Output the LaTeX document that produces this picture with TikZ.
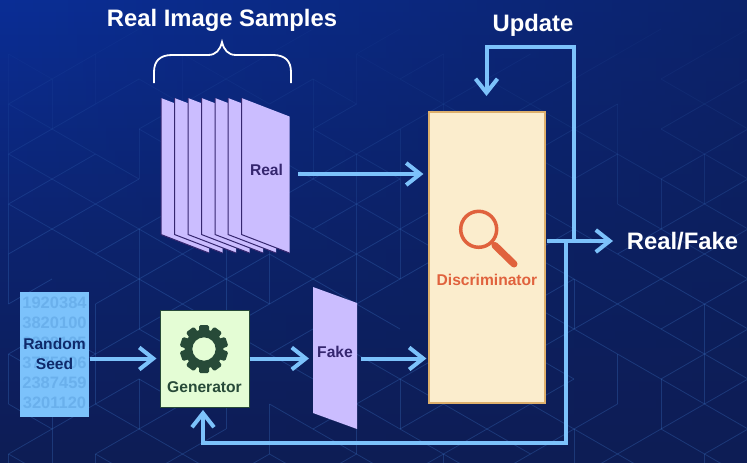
\documentclass[tikz,border=0pt]{standalone}
\usepackage{fontspec}
\setmainfont{Liberation Sans}
\usetikzlibrary{positioning,calc,arrows.meta,fadings}

\definecolor{flowblue}{HTML}{7CC2FB}
\definecolor{seedblue}{HTML}{6AB0EC}
\definecolor{sheetlilac}{HTML}{CBBDFF}
\definecolor{sheetdark}{HTML}{35266F}
\definecolor{gearDark}{HTML}{274A38}
\definecolor{lensRed}{HTML}{E0623D}
\definecolor{bgtop}{HTML}{0A2E96}
\definecolor{bgmid}{HTML}{0C2470}
\definecolor{bgbot}{HTML}{0D1D55}
\definecolor{latline}{HTML}{3F78C8}
\definecolor{discfill}{HTML}{FBEDCD}
\definecolor{discedge}{HTML}{DDB06C}
\definecolor{genfill}{HTML}{E4FDD5}
\definecolor{seedtext}{HTML}{0F2A6B}

\tikzset{
	flow/.style={draw=flowblue,line width=4pt,-{Straight Barb[length=14pt,width=22pt,line width=4pt]}},
	sheet/.style={fill=sheetlilac},
	sheetedge/.style={draw=sheetdark,line width=1pt},
	bigtext/.style={text=white,font=\bfseries\fontsize{23.8}{26}\selectfont,inner sep=0pt},
	smalltext/.style={font=\bfseries\fontsize{15.6}{20}\selectfont,inner sep=0pt,align=center},
	digits/.style={text=seedblue,font=\bfseries\fontsize{16.5}{20}\selectfont,inner sep=0pt}
}

\begin{document}
\begin{tikzpicture}[x=1pt,y=-1pt]
	\useasboundingbox (0,0) rectangle (747,463);
	% backdrop
	\shade[top color=bgtop,bottom color=bgbot,middle color=bgmid] (0,0) rectangle (747,463);
	\fill[bgbot,path fading=west,opacity=0.65] (0,0) rectangle (747,463);

	% faint lattice
	\pgfmathsetseed{11}
	\foreach \i in {0,...,17} {
		\foreach \j in {1,...,9} {
			\pgfmathsetmacro{\px}{8.5+43.5*\i}
			\pgfmathsetmacro{\py}{4+50*\j+25*mod(\i,2)}
			\pgfmathsetmacro{\op}{min(0.3,\py/900)}
			\pgfmathrandominteger{\ra}{0}{9}
			\pgfmathrandominteger{\rb}{0}{9}
			\pgfmathrandominteger{\rc}{0}{9}
			\begin{scope}[draw=latline,opacity=\op,line width=0.8pt]
				\ifnum\ra<5 \draw (\px,\py) -- ++(0,50); \fi
				\ifnum\rb<7 \draw (\px,\py) -- ++(43.5,25); \fi
				\ifnum\rc<7 \draw (\px,\py) -- ++(43.5,-25); \fi
			\end{scope}
		}
	}

	\node[bigtext] (samples) at (222,20) {Real Image Samples};
	\node[bigtext] (update) at (533,25) {Update};
	\node[bigtext] (verdict) at (682.5,241) {Real/Fake};

	% brace
	\draw[white,line width=1.8pt] (154,83) -- (154,72) .. controls (154,61) and (160,55) .. (172,55) -- (208,55) .. controls (216,55) and (220,50) .. (222,42) .. controls (224,50) and (228,55) .. (236,55) -- (273,55) .. controls (285,55) and (291,61) .. (291,72) -- (291,83);

	% stack of sheets
	\foreach \x in {161,174.5,188,201.5,215,228,241.5} {
		\fill[sheet] (\x,98) -- ++(48,18.5) -- ++(0,136.5) -- ++(-48,-18.5) -- cycle;
		\draw[sheetedge] (\x,98) -- ++(0,136.5) -- ++(48,18.5);
	}
	\node[smalltext,text=sheetdark] (real) at (266.5,170) {Real};

	\fill[sheet] (313,287) -- (357,303) -- (357,429) -- (313,413) -- cycle;
	\node[smalltext,text=sheetdark] (fake) at (335,352) {Fake};

	\node[fill=flowblue,minimum width=69pt,minimum height=125pt,inner sep=0pt] (seedbox) at (54.5,354.5) {};
	\foreach \t/\y in {1920384/303,3820100/323,3928105/343,3775806/363,2387459/383,3201120/403} {
		\node[digits] (row\y) at (54.5,\y) {\t};
	}
	\node[smalltext,text=seedtext] (seed) at (54.5,354) {Random\\Seed};

	\node[draw=gearDark,line width=1pt,fill=genfill,minimum width=89pt,minimum height=97pt,inner sep=0pt] (gen) at (204.5,358.5) {};
	% gear
	\fill[gearDark,even odd rule] (204,349) circle (19.5pt) (204,349) circle (11.7pt);
	\foreach \a in {0,36,...,324} {
		\fill[gearDark,rotate around={\a:(204,349)},rounded corners=1.5pt] (199,333) rectangle (209,325);
	}
	\node[smalltext,text=gearDark] (genlabel) at (204.5,387) {Generator};

	\node[draw=discedge,line width=1.2pt,fill=discfill,minimum width=116pt,minimum height=291pt,inner sep=0pt] (disc) at (487,257.5) {};
	% lens
	\draw[lensRed,line width=3.5pt] (478.7,229.3) circle (18pt);
	\draw[lensRed,line width=3.5pt] (491.5,242) -- (495,245.5);
	\draw[lensRed,line width=7pt,line cap=round] (495,245.5) -- (514,264);
	\node[smalltext,text=lensRed] (disclabel) at (487,280) {Discriminator};

	\coordinate (realout) at (298,174);
	\coordinate (seedout) at (90,358.5);
	\coordinate (fakein) at (309,358.5);
	\coordinate (fakeout) at (361,358.5);
	\coordinate (discout) at (547,241);
	\coordinate (verdictin) at (613,241);
	\coordinate (upa) at (574,241);
	\coordinate (upb) at (574,46.5);
	\coordinate (upc) at (486.5,46.5);
	\coordinate (upd) at (486.5,96);
	\coordinate (backa) at (565.5,243);
	\coordinate (backb) at (565.5,443);
	\coordinate (backc) at (203,443);
	\coordinate (backd) at (203,410);

	\draw[flow] (realout) -- ($(realout -| disc.west)+(-5,0)$);
	\draw[flow] (seedout) -- ($(seedout -| gen.west)+(-3,0)$);
	\draw[flow] (gen.east) -- (fakein);
	\draw[flow] (fakeout) -- ($(fakeout -| disc.west)+(-2,0)$);
	\draw[flow] (discout) -- (verdictin);
	\draw[flow] (upa) -- (upb) -- (upc) -- (upd);
	\draw[flow] (backa) -- (backb) -- (backc) -- (backd);
\end{tikzpicture}
\end{document}
